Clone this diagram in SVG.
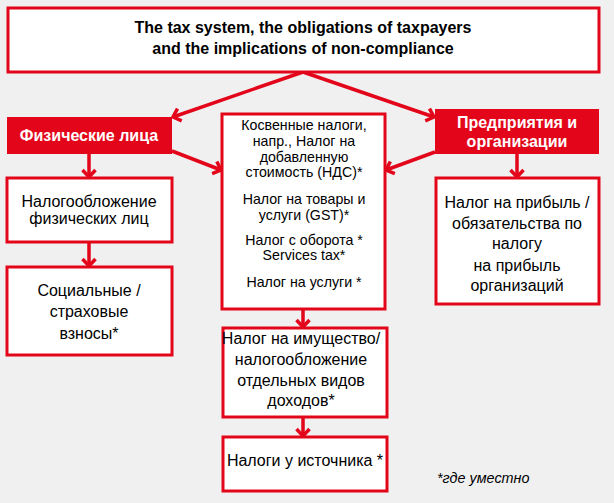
<svg xmlns="http://www.w3.org/2000/svg" width="614" height="503" viewBox="0 0 614 503">
<style>
.bg{fill:#f0f0f0}
.box{fill:#fff;stroke:#e3061b;stroke-width:3}
.hd{fill:#e3061b}
.t{font-family:"Liberation Sans",Arial,sans-serif;font-size:16px;fill:#000;text-anchor:middle}
.s{font-size:14.2px}
.b{font-weight:bold}
.w{fill:#fff;font-weight:bold}
.c{stroke:#e3061b;stroke-width:3.5;fill:none}
</style>
<defs>
<marker id="ah" markerUnits="userSpaceOnUse" markerWidth="16" markerHeight="16" refX="8" refY="7" orient="auto" overflow="visible">
<path d="M1,0.5 L8,7 L1,13.5" fill="none" stroke="#e3061b" stroke-width="3.5"/>
</marker>
</defs>
<rect class="bg" x="0" y="0" width="614" height="503"/>
<g id="connectors">
<line class="c" x1="303" y1="72" x2="173" y2="117" marker-end="url(#ah)"/>
<line class="c" x1="303" y1="72" x2="434" y2="117" marker-end="url(#ah)"/>
<line class="c" x1="172" y1="151" x2="221" y2="170" marker-end="url(#ah)"/>
<line class="c" x1="435" y1="152" x2="386" y2="170" marker-end="url(#ah)"/>
<line class="c" x1="89" y1="154" x2="89" y2="177" marker-end="url(#ah)"/>
<line class="c" x1="89" y1="242" x2="89" y2="266" marker-end="url(#ah)"/>
<line class="c" x1="517" y1="154" x2="517" y2="177" marker-end="url(#ah)"/>
<line class="c" x1="303" y1="309" x2="303" y2="327" marker-end="url(#ah)"/>
<line class="c" x1="303" y1="417" x2="303" y2="436" marker-end="url(#ah)"/>
</g>
<g id="top">
<rect class="box" x="8" y="8" width="591" height="64"/>
<text class="t b" x="303" y="33">The tax system, the obligations of taxpayers</text>
<text class="t b" x="303" y="54">and the implications of non-compliance</text>
</g>
<g id="individuals">
<rect class="hd" x="7" y="117" width="165" height="37"/>
<text class="t w" x="89" y="141">Физические лица</text>
</g>
<g id="companies">
<rect class="hd" x="435" y="109" width="164" height="45"/>
<text class="t w" x="517" y="128">Предприятия и</text>
<text class="t w" x="517" y="147">организации</text>
</g>
<g id="indirect">
<rect class="box" x="222" y="114" width="163" height="195"/>
<text class="t s" x="304" y="130">Косвенные налоги,</text>
<text class="t s" x="304" y="146">напр., Налог на</text>
<text class="t s" x="304" y="162">добавленную</text>
<text class="t s" x="304" y="177">стоимость (НДС)*</text>
<text class="t s" x="304" y="204">Налог на товары и</text>
<text class="t s" x="304" y="220">услуги (GST)*</text>
<text class="t s" x="304" y="245">Налог с оборота *</text>
<text class="t s" x="304" y="260">Services tax*</text>
<text class="t s" x="304" y="287">Налог на услуги *</text>
</g>
<g id="personal">
<rect class="box" x="7" y="178" width="165" height="64"/>
<text class="t" x="89" y="207">Налогообложение</text>
<text class="t" x="89" y="224">физических лиц</text>
</g>
<g id="social">
<rect class="box" x="7" y="267" width="165" height="88"/>
<text class="t" x="89" y="296">Социальные /</text>
<text class="t" x="89" y="317">страховые</text>
<text class="t" x="89" y="339">взносы*</text>
</g>
<g id="profit">
<rect class="box" x="436" y="178" width="163" height="126"/>
<text class="t" x="517" y="208">Налог на прибыль /</text>
<text class="t" x="517" y="229">обязательства по</text>
<text class="t" x="517" y="249">налогу</text>
<text class="t" x="517" y="271">на прибыль</text>
<text class="t" x="517" y="291">организаций</text>
</g>
<g id="property">
<rect class="box" x="223" y="328" width="164" height="89"/>
<text class="t" x="301" y="344">Налог на имущество/</text>
<text class="t" x="301" y="365">налогообложение</text>
<text class="t" x="301" y="386">отдельных видов</text>
<text class="t" x="301" y="406">доходов*</text>
</g>
<g id="source">
<rect class="box" x="223" y="437" width="164" height="54"/>
<text class="t" x="305" y="466">Налоги у источника *</text>
</g>
<text x="437" y="483" font-family="Liberation Sans,Arial,sans-serif" font-size="14.4" font-style="italic" fill="#000">*где уместно</text>
</svg>
